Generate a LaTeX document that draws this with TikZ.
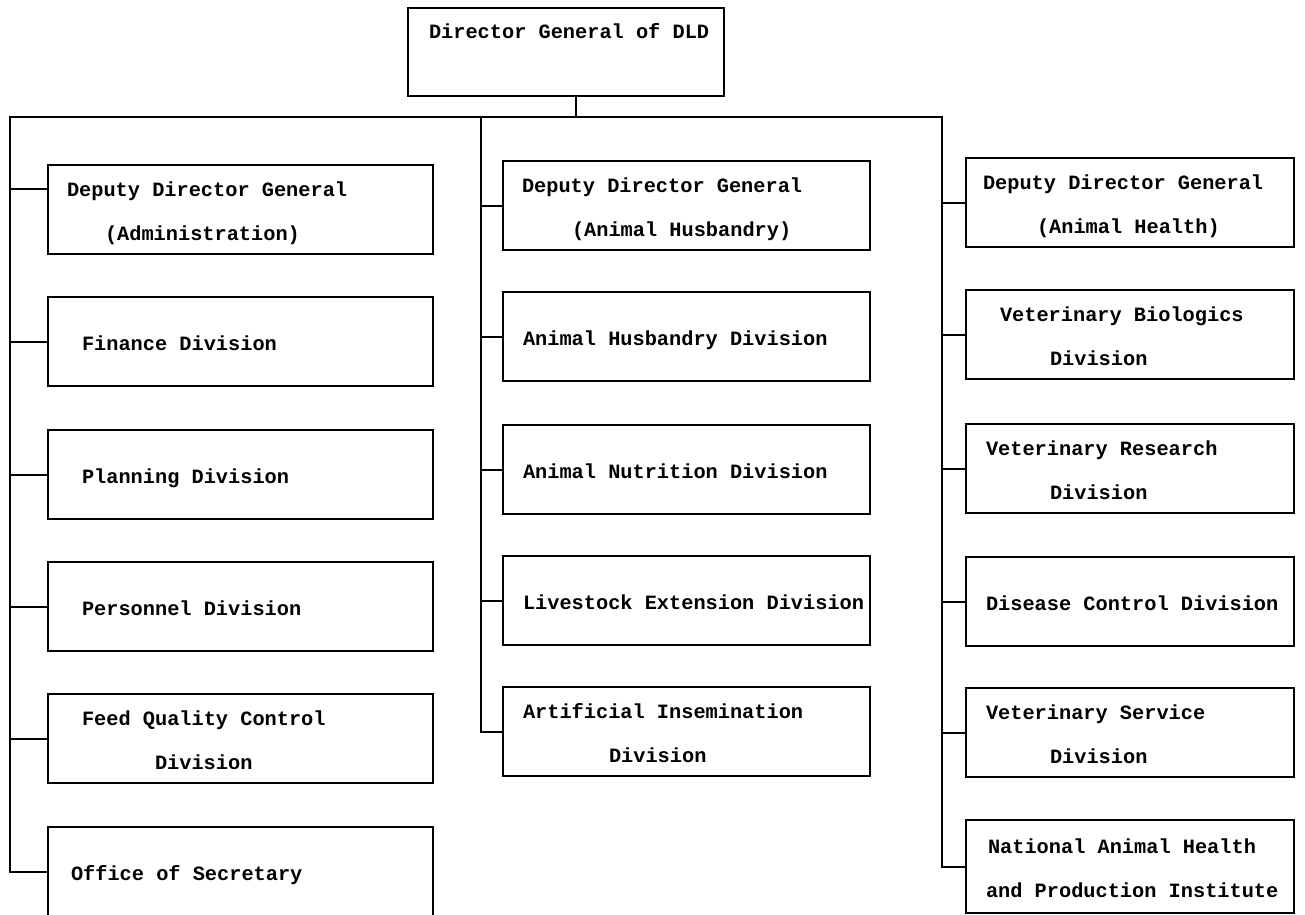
\documentclass[tikz,border=0pt]{standalone}
\usepackage{fontspec}
\setmainfont{Liberation Mono}
\usetikzlibrary{positioning}

\begin{document}
\begin{tikzpicture}[x=1pt,y=-1pt,line width=2pt,node distance=43pt,
  unit/.style={draw,rectangle,inner sep=0pt,outer sep=0pt,align=left,minimum height=89pt,
    font=\fontsize{20.3}{44}\selectfont\bfseries,
    execute at begin node={\spaceskip=12.18pt\relax\strut},
    execute at end node=\strut},
  leftcol/.style={unit,text width=385pt},
  midcol/.style={unit,text width=367pt},
  rightcol/.style={unit,text width=328pt}]
  \useasboundingbox (0,0) rectangle (1305,914);

  \node[unit,text width=316pt,minimum height=67pt,anchor=north west] (DG) at (408,8)
    {\hspace*{21pt}Director General of DLD\\[-22pt]};

  % administration
  \node[leftcol,anchor=north west] (DDGADMIN) at (48,165)
    {\hspace*{19pt}Deputy Director General\\\hspace*{57pt}(Administration)};
  \node[leftcol] (FINANCE)   [below=of DDGADMIN] {\hspace*{34pt}Finance Division};
  \node[leftcol] (PLANNING)  [below=44pt of FINANCE]  {\hspace*{34pt}Planning Division};
  \node[leftcol] (PERSONNEL) [below=of PLANNING] {\hspace*{34pt}Personnel Division};
  \node[leftcol] (FEEDQC)    [below=of PERSONNEL]
    {\hspace*{34pt}Feed Quality Control\\\hspace*{107pt}Division};
  \node[leftcol,minimum height=90pt] (OFFICE) [below=44pt of FEEDQC]
    {\hspace*{23pt}Office of Secretary};

  % animal husbandry
  \node[midcol,anchor=north west] (DDGHUSB) at (503,161)
    {\hspace*{19pt}Deputy Director General\\\hspace*{69pt}(Animal Husbandry)};
  \node[midcol] (AHDIV) [below=42pt of DDGHUSB] {\hspace*{20pt}Animal Husbandry Division};
  \node[midcol] (ANDIV) [below=44pt of AHDIV]   {\hspace*{20pt}Animal Nutrition Division};
  \node[midcol] (LEDIV) [below=42pt of ANDIV]   {\hspace*{20pt}Livestock Extension Division};
  \node[midcol] (AIDIV) [below=42pt of LEDIV]
    {\hspace*{20pt}Artificial Insemination\\\hspace*{106pt}Division};

  % animal health
  \node[rightcol,anchor=north west] (DDGHEALTH) at (966,158)
    {\hspace*{17pt}Deputy Director General\\\hspace*{71pt}(Animal Health)};
  \node[rightcol] (VBDIV) [below=of DDGHEALTH]
    {\hspace*{34pt}Veterinary Biologics\\\hspace*{84pt}Division};
  \node[rightcol] (VRDIV) [below=45pt of VBDIV]
    {\hspace*{20pt}Veterinary Research\\\hspace*{84pt}Division};
  \node[rightcol] (DCDIV) [below=44pt of VRDIV] {\hspace*{20pt}Disease Control Division};
  \node[rightcol] (VSDIV) [below=42pt of DCDIV]
    {\hspace*{20pt}Veterinary Service\\\hspace*{84pt}Division};
  \node[rightcol,minimum height=93pt] (NAHPI) [below=of VSDIV]
    {\hspace*{22pt}National Animal Health\\\hspace*{20pt}and Production Institute};

  \coordinate (BUSL) at (10,117);
  \coordinate (BUSM) at (481,117);
  \coordinate (BUSR) at (942,117);
  \coordinate (DGJOIN) at (576,117);
  \coordinate (DDGADMININ) at ([yshift=21pt]DDGADMIN.west);

  \draw (DGJOIN |- DG.south) -- (DGJOIN);
  \draw (OFFICE.west) -| (BUSL) -- (BUSR) |- (NAHPI.west);
  \draw (BUSM) |- (AIDIV.west);

  \draw (BUSL |- DDGADMININ) -- (DDGADMININ);
  \draw (BUSL |- FINANCE.west) -- (FINANCE.west);
  \draw (BUSL |- PLANNING.west) -- (PLANNING.west);
  \draw (BUSL |- PERSONNEL.west) -- (PERSONNEL.west);
  \draw (BUSL |- FEEDQC.west) -- (FEEDQC.west);

  \draw (BUSM |- DDGHUSB.west) -- (DDGHUSB.west);
  \draw (BUSM |- AHDIV.west) -- (AHDIV.west);
  \draw (BUSM |- ANDIV.west) -- (ANDIV.west);
  \draw (BUSM |- LEDIV.west) -- (LEDIV.west);

  \draw (BUSR |- DDGHEALTH.west) -- (DDGHEALTH.west);
  \draw (BUSR |- VBDIV.west) -- (VBDIV.west);
  \draw (BUSR |- VRDIV.west) -- (VRDIV.west);
  \draw (BUSR |- DCDIV.west) -- (DCDIV.west);
  \draw (BUSR |- VSDIV.west) -- (VSDIV.west);
\end{tikzpicture}
\end{document}
